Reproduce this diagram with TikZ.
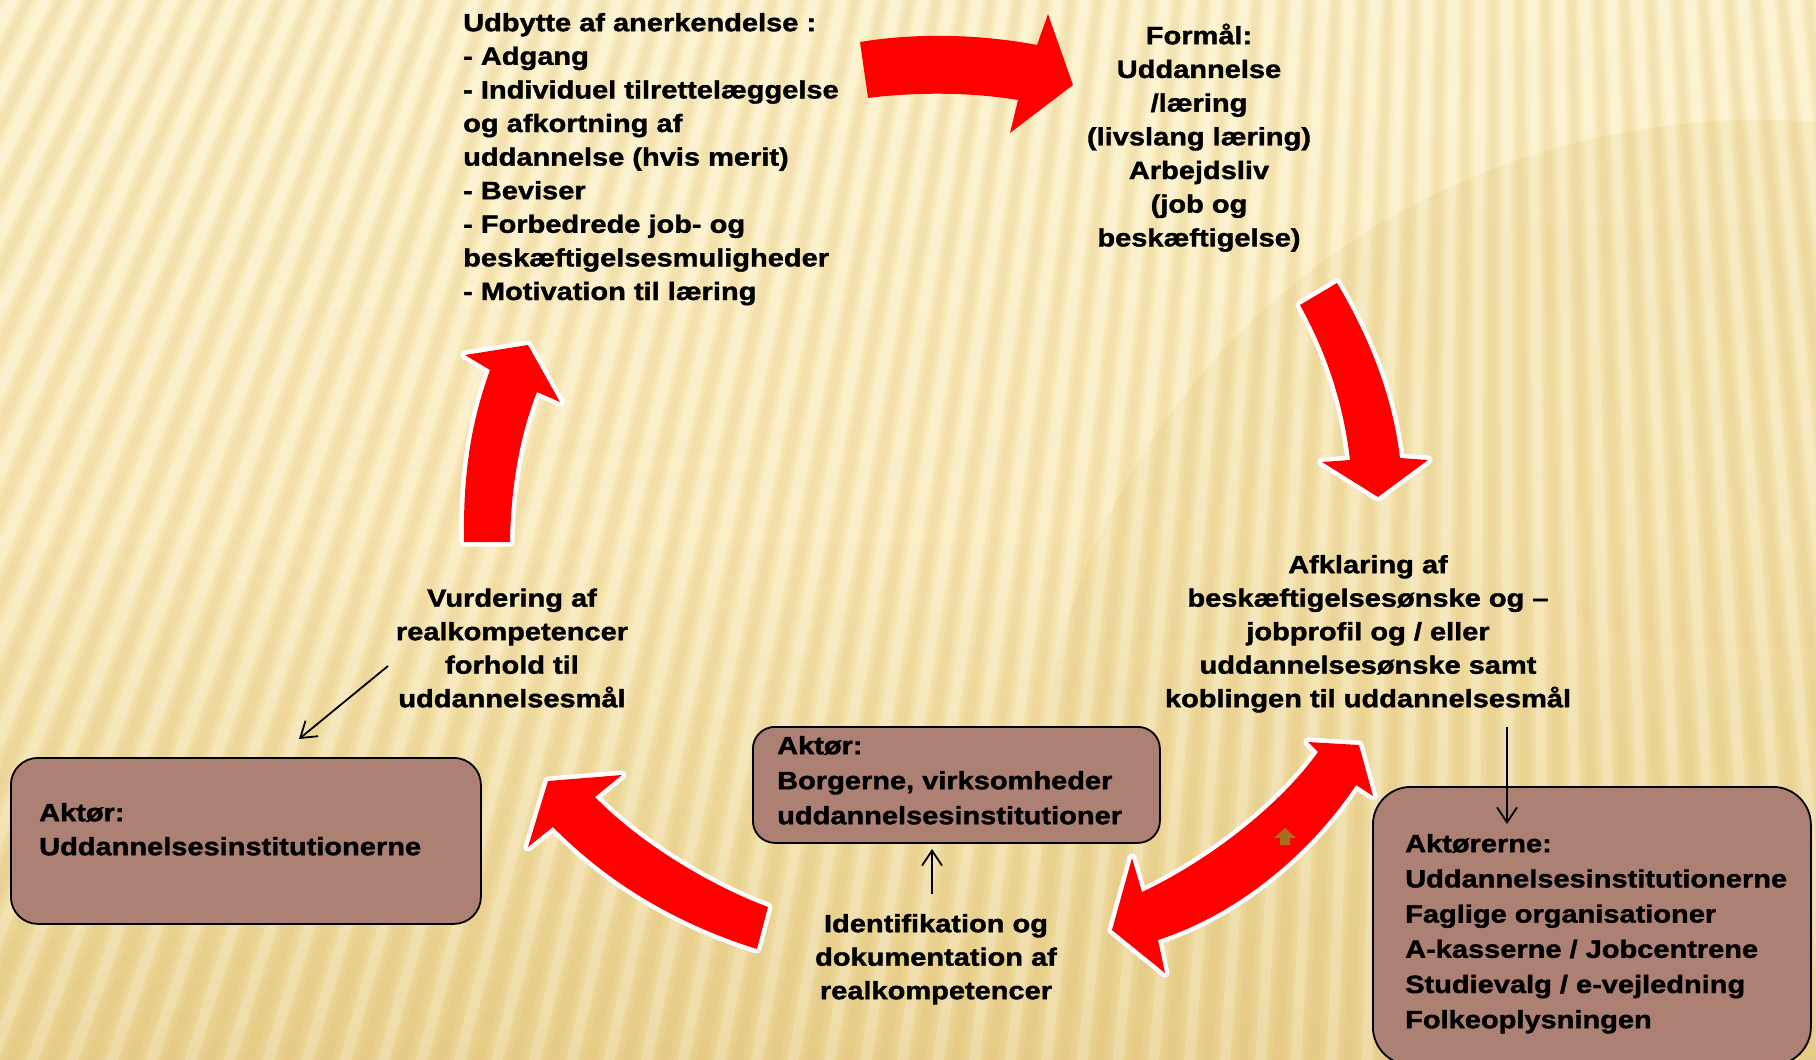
\documentclass[tikz,border=0pt]{standalone}
\usepackage{fontspec}
\setmainfont{Liberation Sans}[FakeStretch=1.16, BoldFeatures={FakeBold=1.5}]
\usetikzlibrary{arrows.meta}
\definecolor{boxfill}{HTML}{AD8074}
\definecolor{arrowred}{HTML}{FF0000}
\definecolor{bgtop}{HTML}{FCF1CA}
\definecolor{bgmid}{HTML}{FAEBBD}
\definecolor{bgbot}{HTML}{EAD392}
\definecolor{stripe}{HTML}{D4AE55}
\definecolor{markbrown}{HTML}{A66F1E}
\newcommand{\fl}{\rule{0pt}{24pt}}
\tikzset{
  txt/.style={font=\bfseries\fontsize{25}{33.5}\selectfont, inner sep=0pt, text=black},
  actorbox/.style={draw=black, line width=1.8pt, fill=boxfill, inner sep=0pt},
  bigarrow/.style={fill=arrowred, preaction={draw=white, line width=9pt, line join=round}},
  plainarrow/.style={fill=arrowred},
  thinarrow/.style={draw=black, line width=1.8pt, -{Straight Barb[length=15pt, width=20pt, line width=1.8pt]}}
}
\begin{document}
\begin{tikzpicture}[x=1pt, y=-1pt]
\useasboundingbox (0,0) rectangle (1816,1060);
% background
\begin{scope}
  \clip (0,0) rectangle (1816,1060);
  \shade[top color=bgtop, bottom color=bgbot, middle color=bgmid] (0,0) rectangle (1816,1060);
  \fill[bgbot, opacity=0.3] (1760,810) ellipse [x radius=720, y radius=690];
  \foreach \a in {80,80.5,...,121} {
    \fill[stripe, opacity=0.10] (1500,-3000) -- +(\a:5200) -- +({\a+0.26}:5200) -- cycle;
    \fill[stripe, opacity=0.10] (1500,-3000) -- +({\a+0.06}:5200) -- +({\a+0.2}:5200) -- cycle;
    \fill[white, opacity=0.2] (1500,-3000) -- +({\a+0.3}:5200) -- +({\a+0.45}:5200) -- cycle;
  }
\end{scope}

% actor boxes
\node[actorbox, rounded corners=27pt, anchor=north west, minimum width=470pt, minimum height=166pt] (box1) at (10,757) {};
\node[actorbox, rounded corners=22pt, anchor=north west, minimum width=407pt, minimum height=116pt] (box2) at (752,726) {};
\node[actorbox, rounded corners=38pt, anchor=north west, minimum width=438pt, minimum height=278pt] (box3) at (1372,786) {};

% big red arrows
\path[plainarrow] (860,42) .. controls (920,32) and (985,35) .. (1037,45) -- (1048,14) -- (1073,85) -- (1010,133) -- (1018,100) .. controls (970,92) and (915,92) .. (868,98) -- cycle;
\path[bigarrow] (1300,305) -- (1337,283) .. controls (1365,330) and (1392,390) .. (1400,458) -- (1428,460) -- (1378,497) -- (1322,462) -- (1350,460) .. controls (1343,400) and (1325,350) .. (1300,305) -- cycle;
\path[bigarrow] (1318,752) -- (1308,742) -- (1359,745) -- (1373,796) -- (1356,785) .. controls (1320,840) and (1250,910) .. (1158,940) -- (1165,973) -- (1112,930) -- (1132,858) -- (1142,892) .. controls (1210,860) and (1280,805) .. (1318,752) -- cycle;
\path[bigarrow] (768,907) .. controls (712,886) and (642,845) .. (595,797) -- (622,775) -- (548,781) -- (528,847) -- (553,827) .. controls (610,885) and (680,925) .. (757,949) -- cycle;
\path[bigarrow] (464,542) .. controls (463,470) and (472,420) .. (490,370) -- (465,355) -- (528,345) -- (560,402) -- (537,392) .. controls (522,430) and (511,480) .. (510,542) -- cycle;
% small brown mark
\fill[markbrown] (1285,828) -- (1296,838) -- (1290,838) -- (1290,845) -- (1280,845) -- (1280,838) -- (1274,838) -- cycle;

% texts
\node[txt, align=left, anchor=north west, font=\bfseries\fontsize{25}{33.6}\selectfont] (udb) at (463,7) {\fl Udbytte af anerkendelse :\\
- Adgang\\
- Individuel tilrettelæggelse\\
og afkortning af\\
uddannelse (hvis merit)\\
- Beviser\\
- Forbedrede job- og\\
beskæftigelsesmuligheder\\
- Motivation til læring};
\node[txt, align=center, anchor=north, font=\bfseries\fontsize{25}{33.7}\selectfont] (form) at (1199,20) {\fl Formål:\\ Uddannelse\\ /læring\\ (livslang læring)\\ Arbejdsliv\\ (job og\\ beskæftigelse)};
\node[txt, align=center, anchor=north] (afk) at (1368,549) {\fl Afklaring af\\ beskæftigelsesønske og –\\ jobprofil og / eller\\ uddannelsesønske samt\\ koblingen til uddannelsesmål};
\node[txt, align=center, anchor=north] (vurd) at (512,582.5) {\fl Vurdering af\\ realkompetencer\\ forhold til\\ uddannelsesmål};
\node[txt, align=center, anchor=north] (ident) at (936,908) {\fl Identifikation og\\ dokumentation af\\ realkompetencer};
\node[txt, align=left, anchor=north west, font=\bfseries\fontsize{25}{35}\selectfont] (box2t) at (777,730) {\fl Aktør:\\ Borgerne, virksomheder\\ uddannelsesinstitutioner};
\node[txt, align=left, anchor=north west, font=\bfseries\fontsize{25}{34}\selectfont] (box1t) at (39,797) {\fl Aktør:\\ Uddannelsesinstitutionerne};
\node[txt, align=left, anchor=north west, font=\bfseries\fontsize{25}{35.2}\selectfont] (box3t) at (1405,828) {\fl Aktørerne:\\ Uddannelsesinstitutionerne\\ Faglige organisationer\\ A-kasserne / Jobcentrene\\ Studievalg / e-vejledning\\ Folkeoplysningen};

% thin arrows
\coordinate (v1) at (388,666);
\coordinate (v2) at (299,739);
\coordinate (a1) at (1507,727);
\coordinate (a2) at (1507,824);
\coordinate (i1) at (932,894);
\coordinate (i2) at (932,849);
\draw[thinarrow] (v1) -- (v2);
\draw[thinarrow] (a1) -- (a2);
\draw[thinarrow] (i1) -- (i2);
\end{tikzpicture}
\end{document}
